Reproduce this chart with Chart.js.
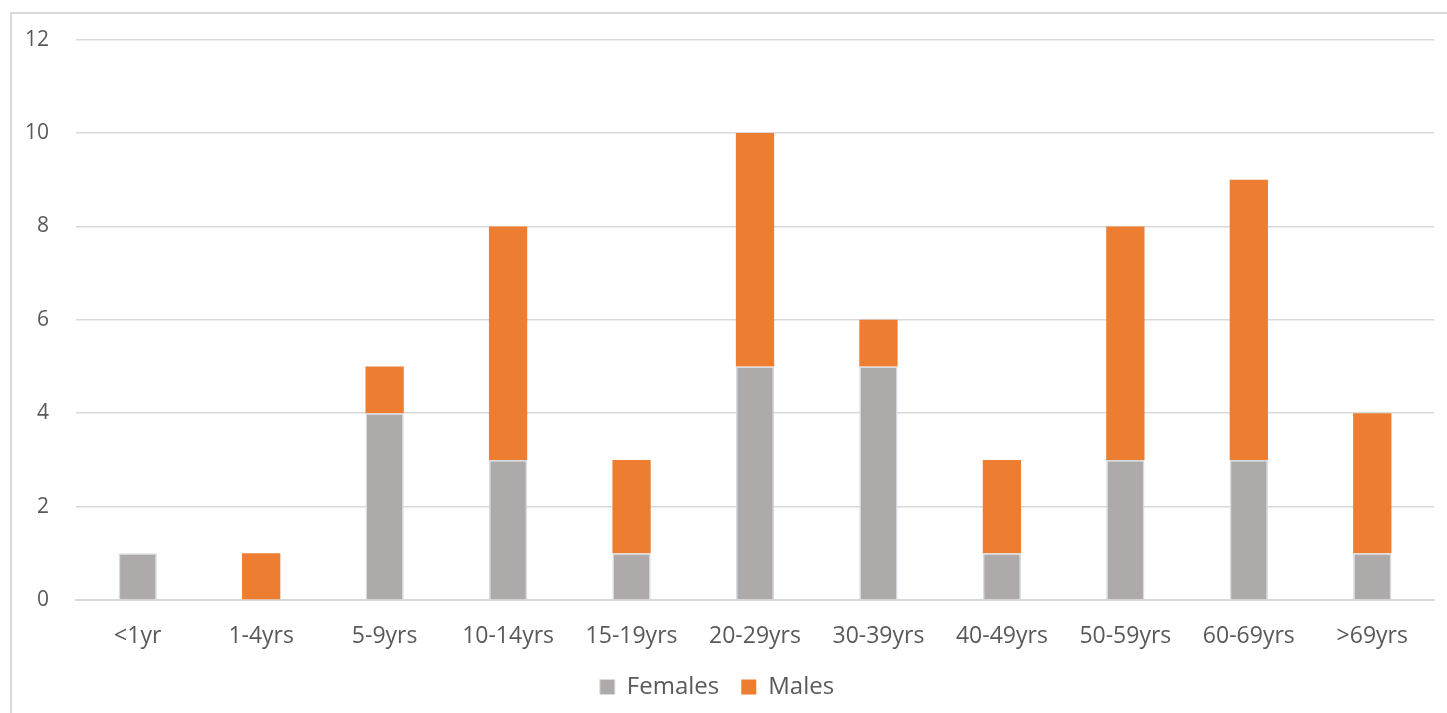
<!DOCTYPE html>
<html>
<head>
<meta charset="utf-8">
<script src="https://cdn.jsdelivr.net/npm/chart.js@4.4.1/dist/chart.umd.min.js"></script>
<style>
  html, body { margin: 0; padding: 0; background: #fff; overflow: hidden; }
  #frame {
    position: absolute; left: 10px; top: 12px; width: 1450px; height: 720px;
    border: 2px solid #d9d9d9; box-sizing: border-box;
  }
  #wrap { position: absolute; left: 0; top: 0; width: 1447px; height: 713px; }
</style>
</head>
<body>
<div id="frame"></div>
<div id="wrap"><canvas id="c"></canvas></div>
<script>
const ageGroups = ['<1yr', '1-4yrs', '5-9yrs', '10-14yrs', '15-19yrs', '20-29yrs', '30-39yrs', '40-49yrs', '50-59yrs', '60-69yrs', '>69yrs'];
const females = [1, 0, 4, 3, 1, 5, 5, 1, 3, 3, 1];
const males   = [0, 1, 1, 5, 2, 5, 1, 2, 5, 6, 3];
const yTicks  = [0, 2, 4, 6, 8, 10, 12];

const FONT = "'Open Sans', 'DejaVu Sans', sans-serif";
const TEXT = '#595959';

new Chart(document.getElementById('c'), {
  type: 'bar',
  data: {
    labels: ageGroups,
    datasets: [
      { label: 'Females', data: females, backgroundColor: '#aeaaaa', borderColor: '#d6dce4', borderWidth: 1.5, categoryPercentage: 1, barPercentage: 0.31 },
      { label: 'Males', data: males, backgroundColor: '#ed7d31', borderColor: '#ed7d31', borderWidth: 0, categoryPercentage: 1, barPercentage: 0.31 }
    ]
  },
  options: {
    responsive: true,
    maintainAspectRatio: false,
    animation: false,
    layout: { padding: { top: 19, right: 13, bottom: 4, left: 0 } },
    plugins: {
      legend: {
        position: 'bottom',
        labels: {
          color: TEXT, font: { family: FONT, size: 24 },
          boxWidth: 15, boxHeight: 15, padding: 22,
          generateLabels(chart) {
            return chart.data.datasets.map((ds, i) => ({
              text: ds.label, fillStyle: ds.backgroundColor,
              strokeStyle: i === 0 ? '#d6dce4' : ds.backgroundColor, lineWidth: i === 0 ? 1 : 0,
              fontColor: TEXT, datasetIndex: i, hidden: false
            }));
          }
        }
      },
      tooltip: { enabled: false }
    },
    scales: {
      x: {
        stacked: true,
        grid: { display: false, drawTicks: false },
        border: { display: true, color: '#d9d9d9', width: 2 },
        ticks: { color: TEXT, font: { family: FONT, size: 23 }, padding: 23 },
        afterFit(axis) { axis.height = 53; }
      },
      y: {
        stacked: true,
        min: 0, max: 12,
        afterBuildTicks(axis) { axis.ticks = yTicks.map(v => ({ value: v })); },
        afterFit(axis) { axis.width = 76; },
        grid: { color: '#d9d9d9', lineWidth: 1.5, drawTicks: false },
        border: { display: false },
        ticks: { color: TEXT, font: { family: FONT, size: 21 }, padding: 27 }
      }
    }
  }
});
</script>
</body>
</html>
